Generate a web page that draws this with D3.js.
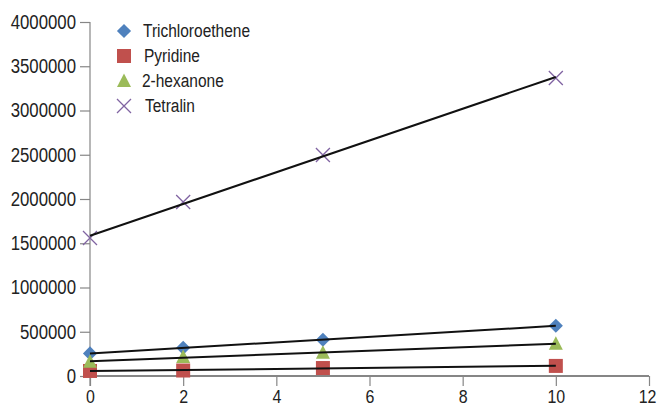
<!DOCTYPE html>
<html>
<head>
<meta charset="utf-8">
<script src="https://cdn.jsdelivr.net/npm/d3@7"></script>
<style>
  body { margin: 0; background: #fff; }
  text { font-family: "Liberation Sans", Arial, sans-serif; fill: #222; }
</style>
</head>
<body>
<div class="chart"></div>
<script>
var svgWidth = 659;
var svgHeight = 409;
var margin = { top: 22, right: 10, bottom: 33, left: 90 };
var width = 649 - margin.left;
var height = 376 - margin.top;

// data
var concentrations = [0, 2, 5, 10];
var seriesNames = ["Trichloroethene", "Pyridine", "2-hexanone", "Tetralin"];
var trichloroethene = [255000, 318000, 409000, 568000];
var pyridine = [57000, 62000, 90000, 114000];
var hexanone = [160000, 216000, 262000, 364000];
var tetralin = [1559000, 1966000, 2497000, 3367000];
var xTicks = [0, 2, 4, 6, 8, 10, 12];
var yTicks = [0, 500000, 1000000, 1500000, 2000000, 2500000, 3000000, 3500000, 4000000];

var colors = ["#4F81BD", "#C0504D", "#9BBB59", "#8064A2"];
var allSeries = [trichloroethene, pyridine, hexanone, tetralin];

var svg = d3.select(".chart")
  .append("svg")
  .attr("width", svgWidth)
  .attr("height", svgHeight);

var chart = svg.append("g")
  .attr("transform", `translate(${margin.left}, ${margin.top})`);

var xScale = d3.scaleLinear().domain([0, 12]).range([0, width]);
var yScale = d3.scaleLinear().domain([0, 4000000]).range([height, 0]);

// squeeze text a bit to look like the condensed font of the original
function condense(sel, k) {
  sel.each(function() {
    var w = this.getComputedTextLength();
    d3.select(this).attr("textLength", w * k).attr("lengthAdjust", "spacingAndGlyphs");
  });
}

// marker shapes
function marker(g, i) {
  if (i === 0) {
    g.append("rect").attr("x", -5).attr("y", -5).attr("width", 10).attr("height", 10)
      .attr("transform", "rotate(45)").attr("fill", colors[0]);
  } else if (i === 1) {
    g.append("rect").attr("x", -7).attr("y", -7).attr("width", 14).attr("height", 14)
      .attr("fill", colors[1]);
  } else if (i === 2) {
    g.append("path").attr("d", "M0,-7.5L7,6L-7,6Z").attr("fill", colors[2]);
  } else {
    g.append("path").attr("d", "M-7,-7L7,7M-7,7L7,-7")
      .attr("stroke", colors[3]).attr("stroke-width", 1.3).attr("fill", "none");
  }
}

// y axis
var leftAxis = d3.axisLeft(yScale).tickValues(yTicks).tickSize(10).tickPadding(4).tickFormat(d3.format("d"));
var yAxis = chart.append("g").call(leftAxis);
yAxis.select(".domain").remove();
yAxis.append("line").attr("x1", 0).attr("x2", 0).attr("y1", 0).attr("y2", height + 10)
  .attr("stroke", "#868686").attr("stroke-width", 1.2);
yAxis.selectAll(".tick line").attr("stroke", "#868686").attr("stroke-width", 1.2);
yAxis.selectAll(".tick text").style("font-size", "19.5px").attr("fill", "#222").call(condense, 0.86);

// x axis
var bottomAxis = d3.axisBottom(xScale).tickValues(xTicks).tickSize(10).tickPadding(4);
var xAxis = chart.append("g").attr("transform", `translate(0, ${height})`).call(bottomAxis);
xAxis.select(".domain").remove();
xAxis.append("line").attr("x1", 0).attr("x2", width).attr("y1", 0).attr("y2", 0)
  .attr("stroke", "#868686").attr("stroke-width", 2);
xAxis.selectAll(".tick line").attr("stroke", "#868686").attr("stroke-width", 1.2);
xAxis.selectAll(".tick text").style("font-size", "19px").attr("fill", "#222").call(condense, 0.84);
// last label sits on the right edge, keep it inside the picture
xAxis.selectAll(".tick text").filter(function(d) { return d === 12; })
  .attr("text-anchor", "end").attr("x", 7);

// markers
allSeries.forEach(function(values, i) {
  chart.append("g").selectAll("g")
    .data(values)
    .enter().append("g")
    .attr("transform", function(d, j) {
      return `translate(${xScale(concentrations[j])}, ${yScale(d)})`;
    })
    .each(function() { marker(d3.select(this), i); });
});

// linear trendlines
function fit(values) {
  var mx = d3.mean(concentrations), my = d3.mean(values);
  var sxy = d3.sum(concentrations, function(x, i) { return (x - mx) * (values[i] - my); });
  var sxx = d3.sum(concentrations, function(x) { return (x - mx) * (x - mx); });
  var b = sxy / sxx;
  return { a: my - b * mx, b: b };
}
allSeries.forEach(function(values) {
  var f = fit(values);
  chart.append("line")
    .attr("x1", xScale(0)).attr("y1", yScale(f.a))
    .attr("x2", xScale(10)).attr("y2", yScale(f.a + f.b * 10))
    .attr("stroke", "#111").attr("stroke-width", 2);
});

// legend
var legend = svg.append("g").attr("transform", "translate(124, 31)");
var textX = [19, 20, 18, 21];
seriesNames.forEach(function(name, i) {
  var row = legend.append("g").attr("transform", `translate(0, ${i * 25})`);
  marker(row, i);
  row.append("text").attr("x", textX[i]).attr("y", 0).attr("dy", "0.36em")
    .style("font-size", "18px").text(name).call(condense, 0.86);
});
</script>
</body>
</html>
